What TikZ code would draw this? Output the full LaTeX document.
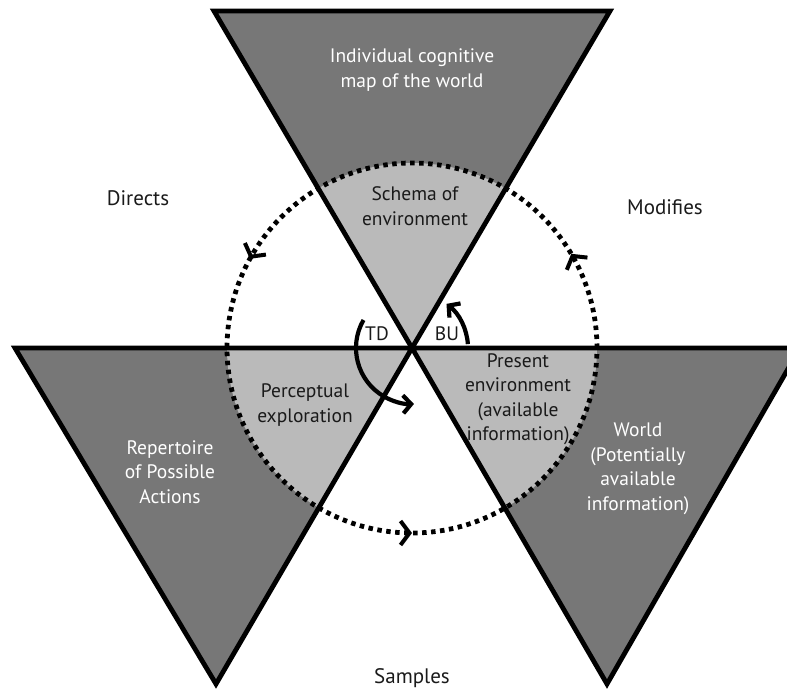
\documentclass[tikz,border=0pt]{standalone}
\usepackage{fontspec}
\setmainfont{PT Sans}
\usepackage{xcolor}
\definecolor{cDark}{HTML}{777777}
\definecolor{cLight}{HTML}{BABABA}
\definecolor{cInk}{HTML}{1A1A1A}
\usetikzlibrary{arrows.meta,decorations.markings}
\tikzset{
  tri-edge/.style={draw=black,line width=4.8pt,line join=miter},
  ring/.style={draw=black,line width=4.8pt,dash pattern=on 4.5pt off 4.5pt},
  ringtip/.tip={Straight Barb[length=9pt,width=24pt,line width=4pt]},
  node-text/.style={font=\fontsize{19.5}{24.5}\selectfont,align=center,text=cInk,inner sep=0pt},
  node-white/.style={node-text,text=white},
  node-side/.style={font=\fontsize{21}{25}\selectfont,text=cInk,inner sep=0pt},
  arrow-turn/.style={-{Straight Barb[length=8pt,width=18pt]},line width=4.2pt},
}

\begin{document}
\begin{tikzpicture}[x=1pt,y=-1pt]
  \useasboundingbox (0,0) rectangle (787,693);
  \coordinate (hub) at (412,348);
  \coordinate (top-a) at (214,11);
  \coordinate (top-b) at (610,11);
  \coordinate (left-a) at (15,348);
  \coordinate (left-c) at (216,684);
  \coordinate (right-b) at (800,348);
  \coordinate (right-c) at (607,684);

  % the three triangles
  \fill[cDark] (top-a) -- (top-b) -- (hub) -- cycle;
  \fill[cDark] (left-a) -- (hub) -- (left-c) -- cycle;
  \fill[cDark] (hub) -- (right-b) -- (right-c) -- cycle;
  \begin{scope}
    \clip (hub) circle[radius=185pt];
    \fill[cLight] (top-a) -- (top-b) -- (hub) -- cycle;
    \fill[cLight] (left-a) -- (hub) -- (left-c) -- cycle;
    \fill[cLight] (hub) -- (right-b) -- (right-c) -- cycle;
  \end{scope}
  \draw[tri-edge] (top-a) -- (top-b) -- (hub) -- cycle;
  \draw[tri-edge] (left-a) -- (hub) -- (left-c) -- cycle;
  \draw[tri-edge] (hub) -- (right-b) -- (right-c) -- cycle;

  % perception cycle
  \draw[ring,postaction={decorate},decoration={markings,
      mark=at position 0.085 with {\arrow{ringtip}},
      mark=at position 0.42 with {\arrow{ringtip}},
      mark=at position 0.75 with {\arrow{ringtip}}}]
    (hub) circle[radius=185pt];

  \draw[arrow-turn] (hub) ++(150:56pt) arc[start angle=150,end angle=272,radius=56pt];
  \draw[arrow-turn] (hub) ++(4:56pt) arc[start angle=4,end angle=52,radius=56pt];

  \node[node-white] (cogmap) at (412,70) {Individual cognitive\\map of the world};
  \node[node-text] (schema) at (415,206) {Schema of\\environment};
  \node[node-text] (explore) at (305,405) {Perceptual\\exploration};
  \node[node-text] (present) at (518,399) {Present\\environment\\(available\\information)};
  \node[node-white] (repertoire) at (170,472) {Repertoire\\of Possible\\Actions};
  \node[node-white] (world) at (638,469) {World\\(Potentially\\available\\information)};
  \node[node-text] (td) at (377,334) {TD};
  \node[node-text] (bu) at (447,334) {BU};
  \node[node-side] (directs) at (138,198) {Directs};
  \node[node-side] (modifies) at (665,207) {Modifies};
  \node[node-side] (samples) at (412,678) {Samples};
\end{tikzpicture}
\end{document}
